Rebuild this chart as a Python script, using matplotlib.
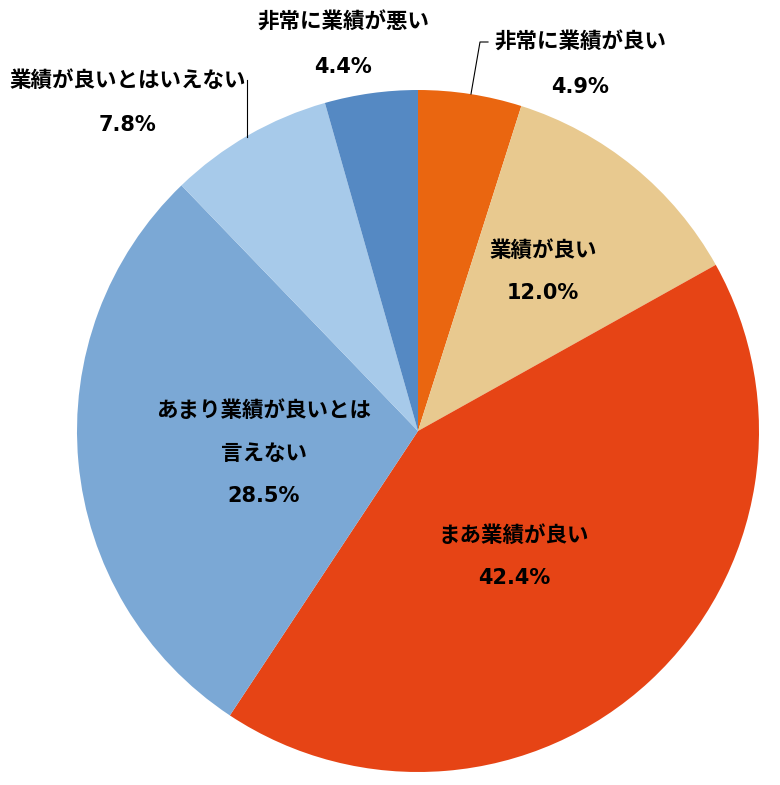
import matplotlib
matplotlib.use("Agg")
import matplotlib.pyplot as plt

plt.rcParams['font.family'] = ['Noto Sans CJK JP', 'DejaVu Sans']

labels = ['非常に業績が良い', '業績が良い', 'まあ業績が良い',
          'あまり業績が良いとは\n言えない', '業績が良いとはいえない', '非常に業績が悪い']
values = [4.9, 12.0, 42.4, 28.5, 7.8, 4.4]
colors = ['#EA6610', '#E8C98F', '#E64415', '#7BA8D5', '#A7CAEA', '#5589C3']

W, H = 780, 785
fig = plt.figure(figsize=(W / 100, H / 100), dpi=100)
ax = fig.add_axes([0, 0, 1, 1])

cx, cy, r = 418, H - 431, 341
wedges, _ = ax.pie(values, colors=colors, startangle=90, counterclock=False,
                   center=(cx, cy), radius=r, frame=True,
                   wedgeprops=dict(linewidth=0))
ax.set_xlim(0, W)
ax.set_ylim(0, H)
ax.set_aspect('equal')
ax.axis('off')

style = dict(fontsize=15.5, fontweight='bold', ha='center', va='center', color='black')
pct_style = dict(style, fontsize=15, family=['DejaVu Sans'])

# labels inside the pie (pixel positions of the text centres)
inside = {1: (543, 250), 2: (514, 535), 3: (264, 410)}
for i, (x, y) in inside.items():
    lines = labels[i].split('\n')
    for k, line in enumerate(lines):
        ax.text(x, H - (y + 43 * k), line, **style)
    ax.text(x, H - (y + 43 * len(lines)), f'{values[i]:.1f}%', **pct_style)

# labels outside the pie
outside = {0: (580, 42), 5: (343, 22), 4: (128, 80)}
for i, (x, y) in outside.items():
    ax.text(x, H - y, labels[i], **style)
    ax.text(x, H - (y + 45), f'{values[i]:.1f}%', **pct_style)

# leader lines
ax.plot([471, 480, 488], [H - 94, H - 42, H - 42], color='black', lw=0.8)
ax.plot([247, 247], [H - 137, H - 80], color='black', lw=0.8)

fig.savefig('out.png', dpi=100)
